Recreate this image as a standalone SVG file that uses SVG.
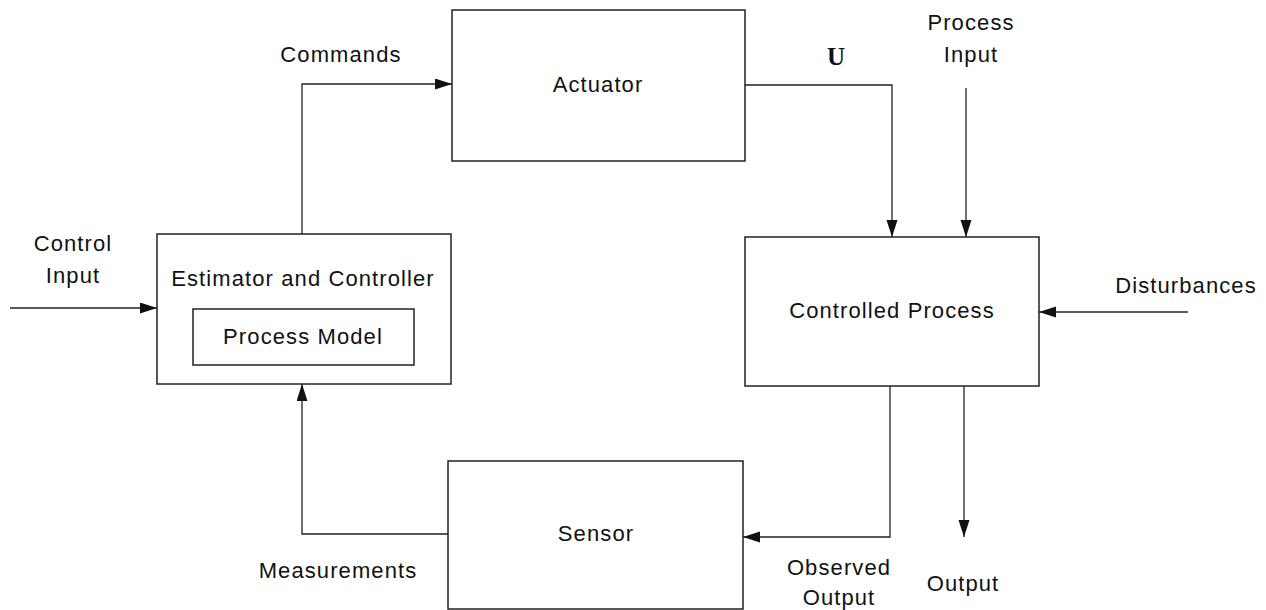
<svg xmlns="http://www.w3.org/2000/svg" width="1266" height="610" viewBox="0 0 1266 610">
  <defs>
    <marker id="arrow" markerUnits="userSpaceOnUse" markerWidth="18" markerHeight="12" refX="17" refY="5.5" orient="auto">
      <path d="M0,0 L17,5.5 L0,11 Z" fill="#111"/>
    </marker>
    <style>
      .box { fill: #fff; stroke: #222; stroke-width: 1.5; }
      .wire { fill: none; stroke: #222; stroke-width: 1.3; }
      .arr { marker-end: url(#arrow); }
      .lbl { font-family: "Liberation Sans", Arial, Helvetica, sans-serif; font-size: 22px; letter-spacing: 1.1px; fill: #111; text-anchor: middle; }
      .sym { font-family: "Liberation Serif", "Times New Roman", serif; font-size: 25px; font-weight: bold; fill: #111; text-anchor: middle; }
    </style>
  </defs>
  <rect width="1266" height="610" fill="#fff"/>

  <!-- connectors -->
  <g id="connectors">
    <!-- control input into estimator -->
    <line class="wire arr" x1="10" y1="308" x2="157" y2="308"/>
    <!-- commands: estimator to actuator -->
    <polyline class="wire arr" points="302,234 302,84 452,84"/>
    <!-- U: actuator to controlled process -->
    <polyline class="wire arr" points="745,85 892,85 892,237"/>
    <!-- process input -->
    <line class="wire arr" x1="966" y1="88" x2="966" y2="237"/>
    <!-- disturbances -->
    <line class="wire arr" x1="1188" y1="312" x2="1039" y2="312"/>
    <!-- observed output to sensor -->
    <polyline class="wire arr" points="890,386 890,537 743,537"/>
    <!-- output -->
    <line class="wire arr" x1="964" y1="386" x2="964" y2="537"/>
    <!-- measurements: sensor to estimator -->
    <polyline class="wire arr" points="448,534 302,534 302,384"/>
  </g>

  <!-- connector labels -->
  <g id="labels">
    <text class="lbl" x="73" y="251">Control</text>
    <text class="lbl" x="73" y="283">Input</text>
    <text class="lbl" x="341" y="62">Commands</text>
    <text class="sym" x="836" y="65">U</text>
    <text class="lbl" x="971" y="30">Process</text>
    <text class="lbl" x="971" y="62">Input</text>
    <text class="lbl" x="1186" y="293">Disturbances</text>
    <text class="lbl" x="338" y="578">Measurements</text>
    <text class="lbl" x="839" y="575">Observed</text>
    <text class="lbl" x="839" y="605">Output</text>
    <text class="lbl" x="963" y="591">Output</text>
  </g>

  <!-- estimator and controller with embedded process model -->
  <g id="estimator">
    <rect class="box" x="157" y="234" width="294" height="150"/>
    <text class="lbl" x="303" y="286">Estimator and Controller</text>
    <g id="process-model">
      <rect class="box" x="193" y="309" width="221" height="56"/>
      <text class="lbl" x="303" y="344">Process Model</text>
    </g>
  </g>

  <g id="actuator">
    <rect class="box" x="452" y="10" width="293" height="151"/>
    <text class="lbl" x="598" y="92">Actuator</text>
  </g>

  <g id="controlled-process">
    <rect class="box" x="745" y="237" width="294" height="149"/>
    <text class="lbl" x="892" y="318">Controlled Process</text>
  </g>

  <g id="sensor">
    <rect class="box" x="448" y="461" width="295" height="148"/>
    <text class="lbl" x="596" y="541">Sensor</text>
  </g>
</svg>
